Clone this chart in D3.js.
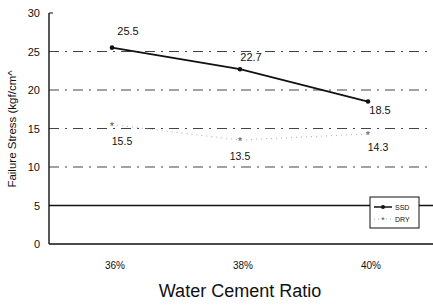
<!DOCTYPE html>
<html>
<head>
<meta charset="utf-8">
<script src="https://cdn.jsdelivr.net/npm/d3@7"></script>
<style>
  body { margin: 0; background: #fff; }
  text { font-family: "Liberation Sans", Arial, sans-serif; fill: #111; }
</style>
</head>
<body>
<svg id="chart" width="433" height="305"></svg>
<script>
const ratios = ["36%", "38%", "40%"];
const ssd = [25.5, 22.7, 18.5];
const dry = [15.5, 13.5, 14.3];
const yTicks = [0, 5, 10, 15, 20, 25, 30];

const svg = d3.select("#chart");
const plotL = 49, plotR = 433, plotT = 13, plotB = 244;

const x = d3.scaleBand().domain(ratios).range([plotL, plotR]);
const y = d3.scaleLinear().domain([0, 30]).range([plotB, plotT]);
const cx = d => x(d) + x.bandwidth() / 2 - 1;

// gridlines
yTicks.filter(t => t > 0 && t < 30).forEach(t => {
  svg.append("line")
    .attr("x1", plotL).attr("x2", plotR)
    .attr("y1", y(t)).attr("y2", y(t))
    .attr("stroke", t === 5 ? "#111" : "#444")
    .attr("stroke-width", t === 5 ? 1.4 : 1)
    .attr("stroke-dasharray", t === 5 ? null : "10,6,2,6");
});

// axes
svg.append("line").attr("x1", plotL).attr("x2", plotR)
  .attr("y1", y(0)).attr("y2", y(0)).attr("stroke", "#111").attr("stroke-width", 1.4);
svg.append("line").attr("x1", plotL).attr("x2", plotL)
  .attr("y1", y(30)).attr("y2", y(0)).attr("stroke", "#111").attr("stroke-width", 1.4);
svg.append("line").attr("x1", plotL).attr("x2", plotL + 4)
  .attr("y1", y(30)).attr("y2", y(30)).attr("stroke", "#111");

yTicks.forEach(t => {
  svg.append("text")
    .attr("x", 40).attr("y", y(t) + 4)
    .attr("text-anchor", "end").attr("font-size", 11)
    .text(t);
});

ratios.forEach(r => {
  svg.append("text")
    .attr("x", cx(r) + 3).attr("y", 269)
    .attr("text-anchor", "middle").attr("font-size", 10)
    .text(r);
});

svg.append("text")
  .attr("transform", `translate(16,129) rotate(-90)`)
  .attr("text-anchor", "middle").attr("font-size", 11.5)
  .text("Failure Stress (kgf/cm^");

svg.append("text")
  .attr("x", 240).attr("y", 297)
  .attr("text-anchor", "middle").attr("font-size", 18)
  .text("Water Cement Ratio");

// DRY series
const line = d3.line().x((d, i) => cx(ratios[i])).y(d => y(d));
svg.append("path").datum(dry)
  .attr("d", line).attr("fill", "none")
  .attr("stroke", "#aaa").attr("stroke-width", 1).attr("stroke-dasharray", "1,4");
dry.forEach((v, i) => {
  svg.append("text")
    .attr("x", cx(ratios[i])).attr("y", y(v) + 5)
    .attr("text-anchor", "middle").attr("font-size", 11).style("fill", "#555")
    .text("*");
});
const dryOff = [[10, 20], [0, 20], [10, 17]];
dry.forEach((v, i) => {
  svg.append("text")
    .attr("x", cx(ratios[i]) + dryOff[i][0]).attr("y", y(v) + dryOff[i][1])
    .attr("text-anchor", "middle").attr("font-size", 10.5)
    .text(v.toFixed(1));
});

// SSD series
svg.append("path").datum(ssd)
  .attr("d", line).attr("fill", "none")
  .attr("stroke", "#111").attr("stroke-width", 1.8);
svg.selectAll(".ssd").data(ssd).enter().append("circle")
  .attr("cx", (d, i) => cx(ratios[i])).attr("cy", d => y(d))
  .attr("r", 2.3).attr("fill", "#111");
const ssdOff = [[16, -13], [11, -8], [12, 12]];
ssd.forEach((v, i) => {
  svg.append("text")
    .attr("x", cx(ratios[i]) + ssdOff[i][0]).attr("y", y(v) + ssdOff[i][1])
    .attr("text-anchor", "middle").attr("font-size", 11)
    .text(v.toFixed(1));
});

// legend
const lg = svg.append("g").attr("transform", "translate(370,197)");
lg.append("rect").attr("width", 49).attr("height", 31)
  .attr("fill", "#fff").attr("stroke", "#111").attr("stroke-width", 1);
lg.append("line").attr("x1", 4).attr("x2", 22).attr("y1", 10).attr("y2", 10)
  .attr("stroke", "#111").attr("stroke-width", 1.5);
lg.append("circle").attr("cx", 13).attr("cy", 10).attr("r", 2).attr("fill", "#111");
lg.append("text").attr("x", 25).attr("y", 13).attr("font-size", 7).text("SSD");
lg.append("line").attr("x1", 4).attr("x2", 22).attr("y1", 22).attr("y2", 22)
  .attr("stroke", "#aaa").attr("stroke-width", 1).attr("stroke-dasharray", "1,3");
lg.append("text").attr("x", 13).attr("y", 26).attr("text-anchor", "middle")
  .attr("font-size", 9).style("fill", "#555").text("*");
lg.append("text").attr("x", 25).attr("y", 25).attr("font-size", 7).text("DRY");
</script>
</body>
</html>
